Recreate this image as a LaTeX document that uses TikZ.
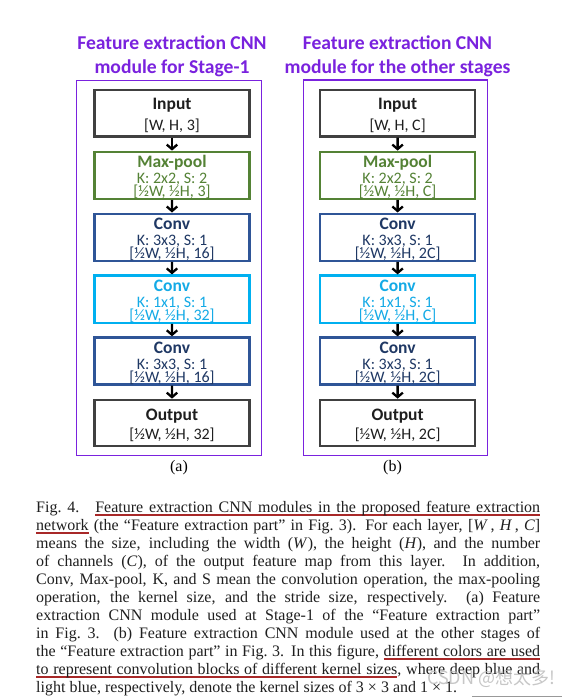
\documentclass[tikz,border=0pt]{standalone}
\usepackage{fontspec}
\setmainfont{Liberation Serif}
\newfontfamily\boxfont{Carlito}
\newfontfamily\cjkfont{Noto Sans CJK SC}
\usetikzlibrary{arrows.meta,trees}

\definecolor{framepurple}{RGB}{122,34,222}
\definecolor{iogray}{RGB}{64,64,64}
\definecolor{iotext}{RGB}{30,30,30}
\definecolor{poolgreen}{RGB}{84,130,53}
\definecolor{deepblue}{RGB}{47,85,151}
\definecolor{deeptext}{RGB}{31,56,100}
\definecolor{lightblue}{RGB}{0,176,240}
\definecolor{lighttext}{RGB}{20,170,230}
\definecolor{capred}{RGB}{168,40,40}

% first line of a block, with a strut that pushes the text a little down
\newcommand{\boxtitle}{\rule{0pt}{16pt}\bfseries\fontsize{17.5}{17.5}\selectfont}
\newcommand{\tightlines}{\lineskiplimit-20pt\relax}
% red underline that keeps the stretch of the spaces
\newcommand{\ulw}[1]{\setbox0\hbox{#1}\rlap{\color{capred}\rule[-3.2pt]{\wd0}{1.4pt}}\box0\relax}
\newcommand{\ulsp}{{\color{capred}\leaders\hrule height -1.8pt depth 3.2pt
  \hskip\fontdimen2\font plus \fontdimen3\font minus \fontdimen4\font}}
\def\redul#1{\redulword#1 \redulend}
\def\redulword#1 #2\redulend{\ulw{#1}\ifx\relax#2\relax\else\ulsp\redulword#2\redulend\fi}

\tikzset{
  blk/.style={draw, line width=2.2pt, minimum width=155pt, minimum height=46.3pt,
              inner sep=0pt, align=center, fill=white,
              font=\boxfont\fontsize{16}{13}\selectfont\tightlines},
  io/.style={blk, draw=iogray, text=iotext},
  pool/.style={blk, draw=poolgreen, text=poolgreen},
  convdeep/.style={blk, draw=deepblue, text=deeptext},
  convlight/.style={blk, draw=lightblue, text=lighttext},
  flow/.style={-{Straight Barb[length=4.5pt,width=10.5pt]}, line width=2.3pt, black},
  module/.style={line width=1.5pt},
  heading/.style={align=center, text=framepurple,
                  font=\boxfont\bfseries\fontsize{19.6}{24}\selectfont},
  sublabel/.style={font=\fontsize{16}{16}\selectfont}
}

\begin{document}
\begin{tikzpicture}[x=1pt, y=-1pt,
                    grow=down, level distance=61.9pt,
                    parent anchor=south, child anchor=north,
                    edge from parent/.style={draw, flow}]
  \useasboundingbox (0,0) rectangle (562,698);
  \fill[white] (0,0) rectangle (562,698);

  % (a) Stage-1 module
  \node[io] (InA) at (172,113.4) {{\boxtitle Input}\\[8pt] {[W, H, 3]}}
    child {
      node[pool] (PoolA) {{\boxtitle Max-pool}\\[3pt] K: 2x2, S: 2\\ {[½W, ½H, 3]}}
      child {
        node[convdeep] (ConvA1) {{\boxtitle Conv}\\[3pt] K: 3x3, S: 1\\ {[½W, ½H, 16]}}
        child {
          node[convlight] (ConvA2) {{\boxtitle Conv}\\[3pt] K: 1x1, S: 1\\ {[½W, ½H, 32]}}
          child {
            node[convdeep] (ConvA3) {{\boxtitle Conv}\\[3pt] K: 3x3, S: 1\\ {[½W, ½H, 16]}}
            child { node[io] (OutA) {{\boxtitle Output}\\[6pt] {[½W, ½H, 32]}} }
          }
        }
      }
    };

  % (b) module for the other stages
  \node[io] (InB) at (397.6,113.4) {{\boxtitle Input}\\[8pt] {[W, H, C]}}
    child {
      node[pool] (PoolB) {{\boxtitle Max-pool}\\[3pt] K: 2x2, S: 2\\ {[½W, ½H, C]}}
      child {
        node[convdeep] (ConvB1) {{\boxtitle Conv}\\[3pt] K: 3x3, S: 1\\ {[½W, ½H, 2C]}}
        child {
          node[convlight] (ConvB2) {{\boxtitle Conv}\\[3pt] K: 1x1, S: 1\\ {[½W, ½H, C]}}
          child {
            node[convdeep] (ConvB3) {{\boxtitle Conv}\\[3pt] K: 3x3, S: 1\\ {[½W, ½H, 2C]}}
            child { node[io] (OutB) {{\boxtitle Output}\\[6pt] {[½W, ½H, 2C]}} }
          }
        }
      }
    };

  % purple module frames
  \draw[module, draw=framepurple] ([shift={(-15.6,-9)}]InB.north west) rectangle ([shift={(11.4,8.5)}]OutB.south east);
  \draw[module, draw=framepurple] ([shift={(-17,-8.6)}]InA.north west) rectangle ([shift={(11,8.5)}]OutA.south east);

  \node[heading] (TitleA) at (172,56.5) {Feature extraction CNN\\module for Stage-1};
  \node[heading] (TitleB) at (397.5,56.5) {Feature extraction CNN\\module for the other stages};

  \node[sublabel] (SubA) at (179,468) {(a)};
  \node[sublabel] (SubB) at (392.5,468) {(b)};

  % caption
  \node[anchor=north west, inner sep=0pt, text width=504pt, align=justify,
        text=black!88, font=\fontsize{16}{18}\selectfont] (Caption) at (36,501) {%
    Fig.~4.\quad \redul{Feature extraction CNN modules in the proposed feature extraction}\linebreak
    \redul{network} (the “Feature extraction part” in Fig.~3). For each layer, [\textit{W}\,, \textit{H}\,, \textit{C}]\linebreak
    means the size, including the width (\textit{W}), the height (\textit{H}), and the number\linebreak
    of channels (\textit{C}), of the output feature map from this layer. In addition,\linebreak
    Conv, Max-pool, K, and S mean the convolution operation, the max-pooling\linebreak
    operation, the kernel size, and the stride size, respectively. (a) Feature\linebreak
    extraction CNN module used at Stage-1 of the “Feature extraction part”\linebreak
    in Fig.~3. (b) Feature extraction CNN module used at the other stages of\linebreak
    the “Feature extraction part” in Fig.~3. In this figure, \redul{different colors are used}\linebreak
    \redul{to represent convolution blocks of different kernel sizes}, where deep blue and\linebreak
    light blue, respectively, denote the kernel sizes of 3~×~3 and 1~×~1.};

  \node[text=gray!55, opacity=0.8, font=\cjkfont\fontsize{18}{18}\selectfont] (Mark) at (491,678) {CSDN @想太多!};
  \draw[gray!80, line width=1.2pt] (472,696.5) -- (562,696.5);
\end{tikzpicture}
\end{document}
